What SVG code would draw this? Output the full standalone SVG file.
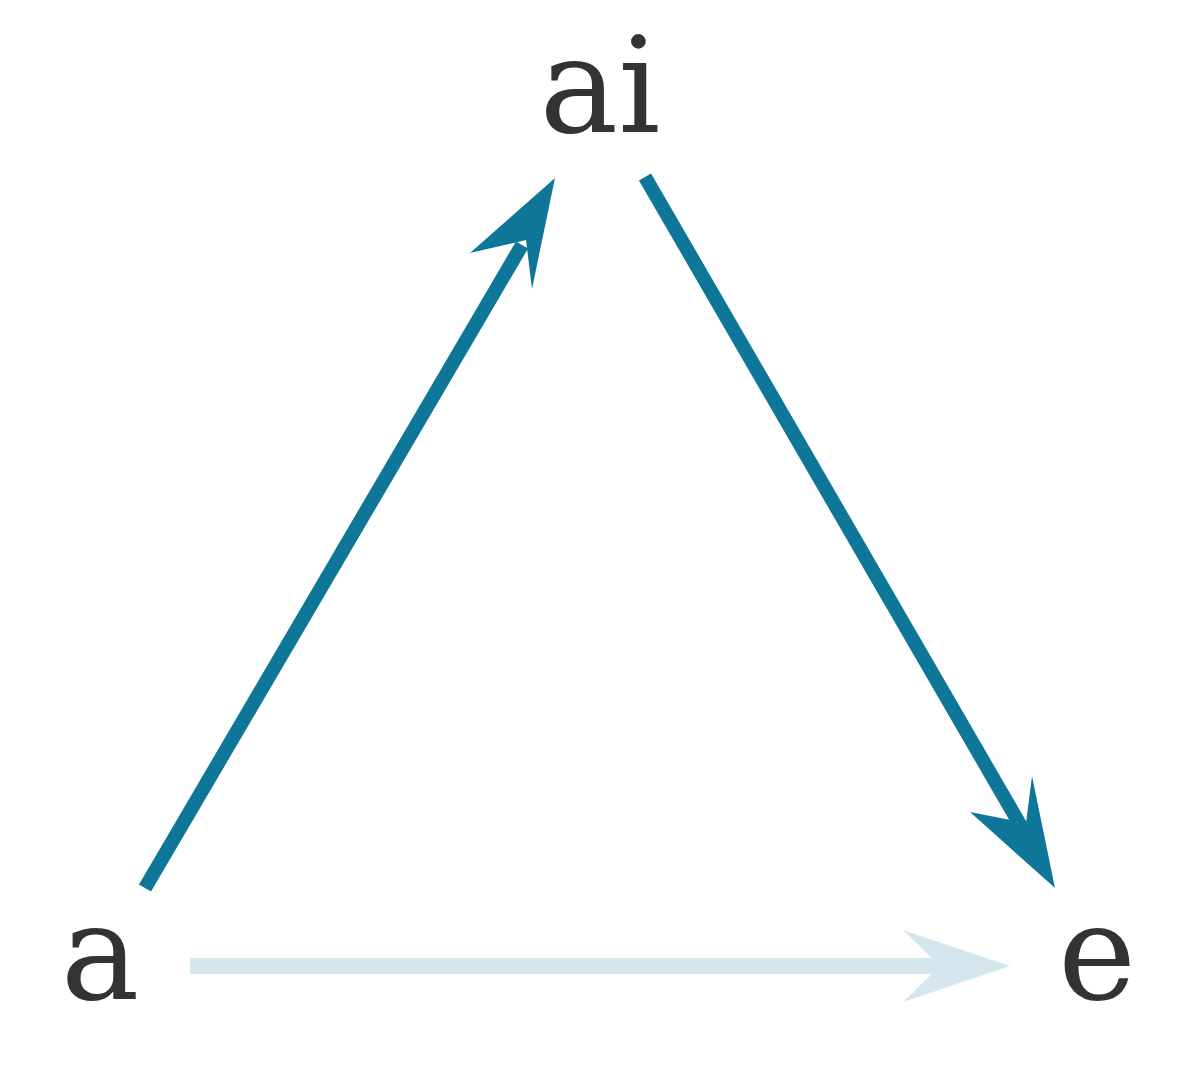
<svg xmlns="http://www.w3.org/2000/svg" width="1200" height="1066" viewBox="0 0 1200 1066">
<style>
.lbl{font-family:"DejaVu Serif","Liberation Serif",serif;font-size:132px;fill:#333;text-anchor:middle}
.dark{stroke:#0e7799;stroke-width:14;fill:none}
.darkh{fill:#0e7799}
.light{stroke:#d4e7ef;stroke-width:16;fill:none}
.lighth{fill:#d4e7ef}
</style>
<rect width="1200" height="1066" fill="#fff"/>
<g id="connectors">
<line class="dark" x1="145" y1="888" x2="522" y2="245"/>
<polygon class="darkh" points="555,178 532,289 526,240 470,253"/>
<line class="dark" x1="645" y1="177" x2="1022" y2="828"/>
<polygon class="darkh" points="1055,888 970,812 1026,823 1032,776"/>
<line class="light" x1="190" y1="966" x2="950" y2="966"/>
<polygon class="lighth" points="1010,966 903,1002 940,966 903,930"/>
</g>
<g id="node-ai"><text class="lbl" x="600" y="132">ai</text></g>
<g id="node-a"><text class="lbl" x="100" y="999">a</text></g>
<g id="node-e"><text class="lbl" x="1097" y="999">e</text></g>
</svg>
